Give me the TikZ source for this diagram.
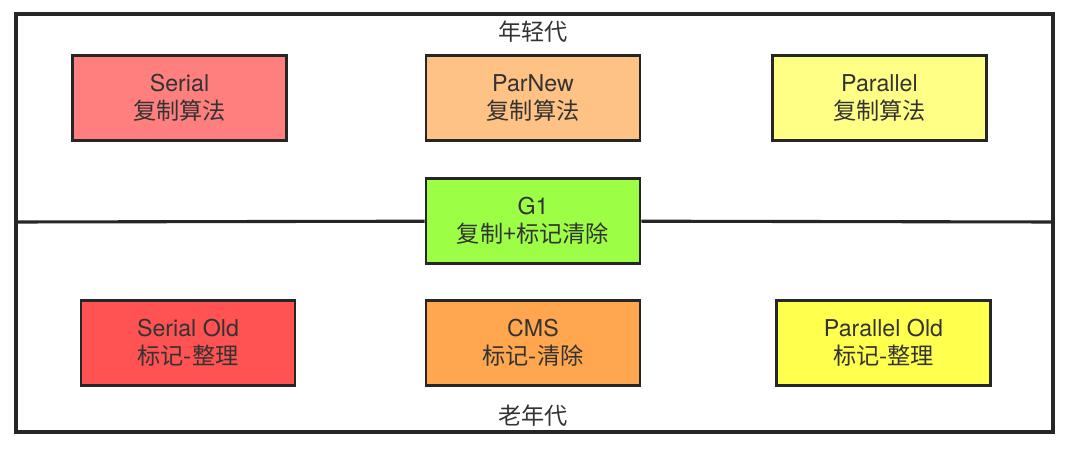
\documentclass[tikz,border=0pt]{standalone}
\usepackage{fontspec}
\setmainfont{Noto Sans CJK SC}
\newfontfamily\latinfont{TeX Gyre Heros}
\usepackage{tikz}
\definecolor{txtgray}{HTML}{333333}
\definecolor{serialc}{HTML}{FF7F7F}
\definecolor{parnewc}{HTML}{FFC285}
\definecolor{parallelc}{HTML}{FFFF85}
\definecolor{gonec}{HTML}{9CFF45}
\definecolor{serialoldc}{HTML}{FF5252}
\definecolor{cmsc}{HTML}{FFA64F}
\definecolor{paralleloldc}{HTML}{FFFF4D}
\tikzstyle{gcbox}=[rectangle,draw=black!85,line width=2pt,
                   minimum width=5.35cm,minimum height=2.13cm,
                   align=center,text=txtgray,font=\fontsize{16.5}{20}\selectfont,
                   inner sep=0pt]
\tikzstyle{genlabel}=[text=txtgray,font=\fontsize{16.5}{20}\selectfont,inner sep=0pt]

\begin{document}
\begin{tikzpicture}[x=0.025cm,y=0.025cm]
    \useasboundingbox (0,0) rectangle (1080,453);
    % outer frame
    \draw[black!85,line width=2.2pt] (16,21) rectangle (1053,439);
    \node (young) at (533,421) [genlabel]{年轻代};
    \node (old)   at (533,37)  [genlabel]{老年代};
    % young generation
    \node (serial)   at (179.5,355) [gcbox,fill=serialc]{{\latinfont Serial}\\复制算法};
    \node (parnew)   at (533,355)   [gcbox,fill=parnewc]{{\latinfont ParNew}\\复制算法};
    \node (parallel) at (879.5,355) [gcbox,fill=parallelc]{{\latinfont Parallel}\\复制算法};
    % both generations
    \node (gone) at (533,232) [gcbox,fill=gonec]{{\latinfont G1}\\复制+标记清除};
    % old generation
    \node (serialold)   at (188,110)   [gcbox,fill=serialoldc]{{\latinfont Serial Old}\\标记-整理};
    \node (cms)         at (533,110)   [gcbox,fill=cmsc]{{\latinfont CMS}\\标记-清除};
    \node (parallelold) at (883.5,110) [gcbox,fill=paralleloldc]{{\latinfont Parallel Old}\\标记-整理};
    % divider
    \coordinate (divl) at (16,231);
    \coordinate (divr) at (1053,231);
    \draw[black!85,line width=2.2pt] (divl) -- (gone) -- (divr);
  \end{tikzpicture}
\end{document}
